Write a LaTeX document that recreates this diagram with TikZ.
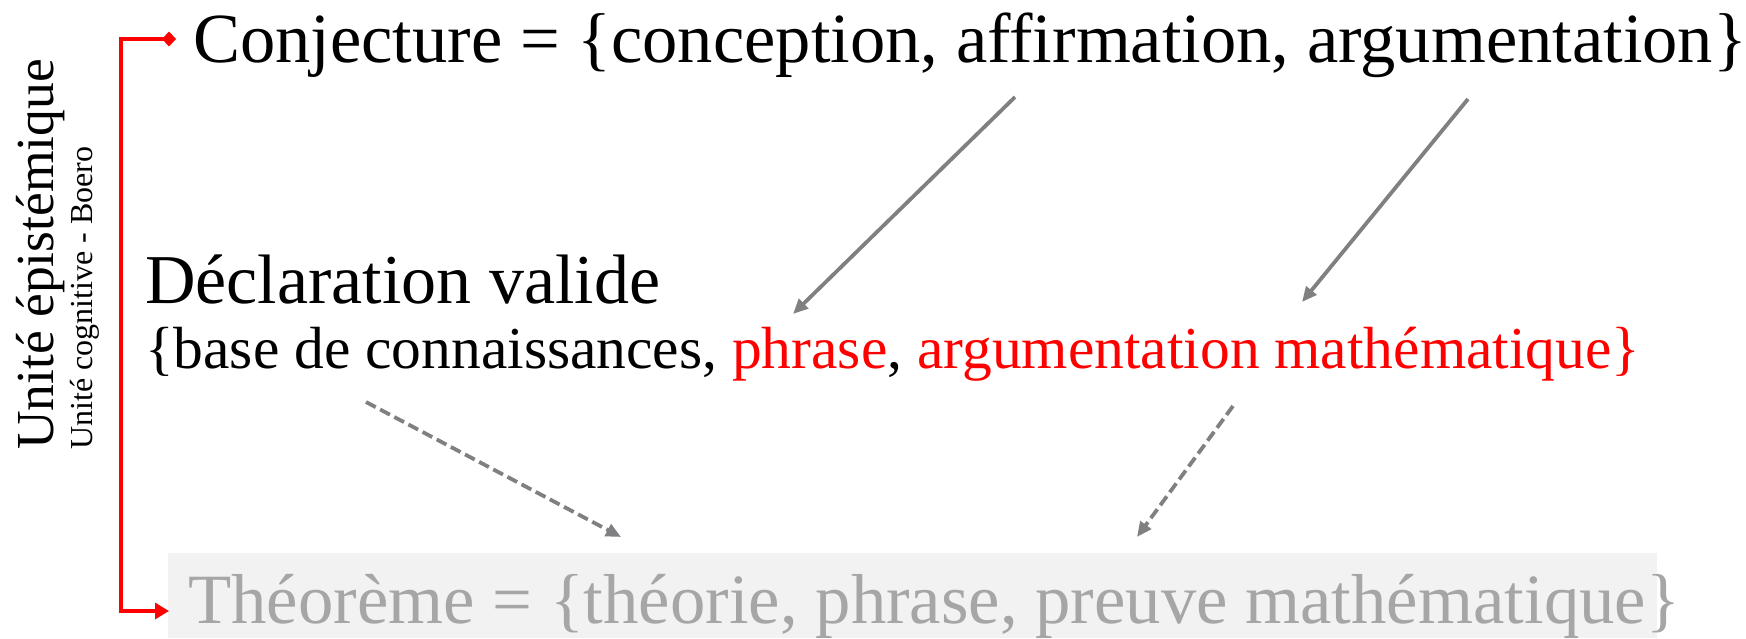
\documentclass[tikz,border=0pt]{standalone}
\usepackage{fontspec}
\setmainfont{Liberation Serif}
\usetikzlibrary{arrows.meta}
\definecolor{arrowgray}{RGB}{128,128,131}
\definecolor{theogray}{RGB}{166,166,166}
\definecolor{boxgray}{RGB}{242,242,242}

\begin{document}
\begin{tikzpicture}[x=1pt, y=1pt,
    txt/.style={inner sep=0pt, anchor=base west},
    link/.style={-{Triangle[length=15pt,width=13pt]}, arrowgray, line width=3.8pt},
    dlink/.style={link, dash pattern=on 11pt off 5pt},
    bracket/.style={{Diamond[length=14pt,width=15pt]}-{Triangle[length=14pt,width=16pt]}, red, line width=3.3pt}]
    \useasboundingbox (0,0) rectangle (1746,-638);

    \node[fill=boxgray, minimum width=1489pt, minimum height=85pt, inner sep=0pt, anchor=north west] (box) at (168,-553) {};

    \node[txt] (conj) at (193,-62) {\fontsize{70.5}{74}\selectfont Conjecture = \{conception, affirmation, argumentation\}};
    \node[txt] (decl) at (145,-303) {\fontsize{70}{74}\selectfont Déclaration valide};
    \node[txt] (base) at (145,-368) {\fontsize{59.5}{64}\selectfont \{base de connaissances, \textcolor{red}{phrase}, \textcolor{red}{argumentation mathématique\}}};
    \node[txt, text=theogray] (theo) at (188,-623) {\fontsize{70.7}{74}\selectfont Théorème = \{théorie, phrase, preuve mathématique\}};

    \node[txt, rotate=90] (unite) at (53,-450) {\fontsize{53.5}{58}\selectfont Unité épistémique};
    \node[txt, rotate=90] (boero) at (92,-450) {\fontsize{32}{36}\selectfont Unité cognitive - Boero};

    % bracket
    \coordinate (btop) at (176,-39);
    \coordinate (bbot) at (169,-611);
    \draw[bracket] (btop) -- (121,-39) |- (bbot);

    % arrows
    \coordinate (a1) at (1015,-97);
    \coordinate (a1e) at (793,-314);
    \coordinate (a2) at (1468,-99);
    \coordinate (a2e) at (1302,-302);
    \coordinate (d1) at (366,-402);
    \coordinate (d1e) at (621,-537);
    \coordinate (d2) at (1233,-406);
    \coordinate (d2e) at (1137,-537);
    \draw[link] (a1) -- (a1e);
    \draw[link] (a2) -- (a2e);
    \draw[dlink] (d1) -- (d1e);
    \draw[dlink] (d2) -- (d2e);
\end{tikzpicture}
\end{document}
